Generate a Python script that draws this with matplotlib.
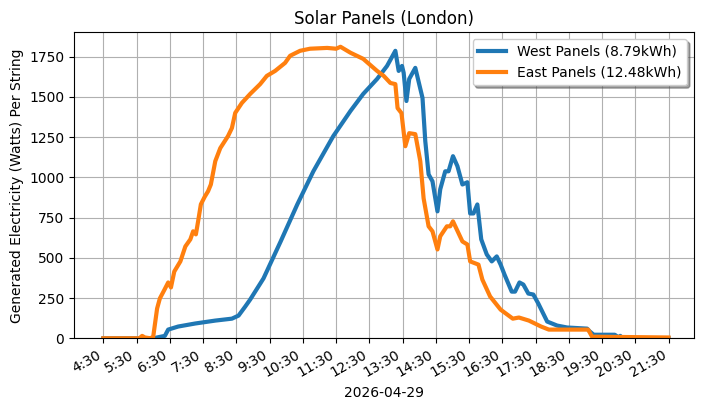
#!/usr/bin/env python3

import datetime
import matplotlib
matplotlib.use("Agg")
import matplotlib.pyplot as plt

# Day of the readings.

day = "2026-04-29"

# West panels (time, watts).

west_times = ["04:30", "06:00", "06:21", "06:27", "06:45", "07:16", "07:52",
              "08:22", "08:34", "08:46", "08:55", "09:19", "09:50", "10:20",
              "10:49", "11:25", "11:56", "12:19", "12:44", "13:02", "13:17",
              "13:23", "13:29", "13:32", "13:37", "13:42", "13:53", "14:06",
              "14:11", "14:17", "14:24", "14:33", "14:38", "14:47", "14:53",
              "15:01", "15:09", "15:18", "15:27", "15:32", "15:38", "15:45",
              "15:52", "16:02", "16:11", "16:20", "16:27", "16:34", "16:47",
              "16:53", "17:01", "17:08", "17:17", "17:26", "17:35", "17:51",
              "18:09", "18:27", "19:03", "19:08", "19:15", "19:53", "20:00",
              "20:03", "20:06", "21:30"]
west_watts = [0, 0, 15, 54, 73, 92, 110,
              122, 141, 197, 241, 372, 602, 832,
              1038, 1257, 1413, 1519, 1612, 1693, 1787,
              1662, 1693, 1650, 1475, 1612, 1681, 1494,
              1226, 1019, 976, 789, 926, 1038, 1038,
              1132, 1070, 956, 970, 776, 776, 832,
              615, 521, 478, 509, 458, 396, 290,
              290, 347, 334, 278, 272, 216, 104,
              79, 67, 60, 42, 22, 22, 5,
              15, 0, 0]

# East panels.

east_times = ["04:30", "05:35", "05:40", "05:45", "05:55", "06:00", "06:04",
              "06:07", "06:12", "06:20", "06:27", "06:32", "06:38", "06:49",
              "06:58", "07:07", "07:12", "07:17", "07:21", "07:26", "07:33",
              "07:39", "07:44", "07:52", "08:01", "08:15", "08:22", "08:28",
              "08:40", "08:55", "09:13", "09:25", "09:40", "09:58", "10:07",
              "10:25", "10:43", "11:14", "11:30", "11:38", "11:56", "12:19",
              "12:44", "12:56", "13:08", "13:17", "13:21", "13:28", "13:35",
              "13:42", "13:53", "14:02", "14:08", "14:17", "14:24", "14:33",
              "14:38", "14:50", "14:56", "15:01", "15:18", "15:27", "15:32",
              "15:47", "15:54", "16:08", "16:27", "16:49", "17:00", "17:18",
              "17:40", "17:54", "19:05", "19:12", "21:30"]
east_watts = [0, 0, 15, 5, 0, 10, 110,
              185, 248, 300, 347, 316, 415, 478,
              571, 615, 665, 646, 727, 833, 880,
              914, 956, 1101, 1182, 1257, 1307, 1401,
              1463, 1519, 1580, 1631, 1662, 1712, 1756,
              1787, 1800, 1805, 1800, 1812, 1775, 1737,
              1662, 1631, 1587, 1580, 1431, 1400, 1194,
              1275, 1269, 1101, 870, 696, 665, 552,
              634, 696, 696, 727, 602, 583, 478,
              458, 365, 260, 178, 122, 129, 110,
              73, 54, 54, 10, 5]

labels = ["West Panels (8.79kWh)", "East Panels (12.48kWh)"]


def to_dt(times):
    return [datetime.datetime.strptime(day + " " + t, "%Y-%m-%d %H:%M")
            for t in times]


# Start the plotting.

fig, ax = plt.subplots(figsize=(7.04, 4.09), dpi=100)
fig.subplots_adjust(left=0.1051, right=0.9858, top=0.921, bottom=0.1729)

ax.plot(to_dt(west_times), west_watts, "-", linewidth=3, label=labels[0])
ax.plot(to_dt(east_times), east_watts, "-", linewidth=3, label=labels[1])

# Ticks every hour on the half hour.

ticks = [datetime.datetime(2026, 4, 29, h, 30) for h in range(4, 22)]
ax.set_xticks(ticks)
ax.set_xticklabels(["{0}:30".format(t.hour) for t in ticks],
                   rotation=30, ha="right")
ax.set_xlim(datetime.datetime(2026, 4, 29, 3, 37),
            datetime.datetime(2026, 4, 29, 22, 16))
ax.set_ylim(0, 1902)

ax.grid(True)
ax.legend(loc="upper right", shadow=True)

ax.set_title("Solar Panels (London)")
ax.set_xlabel(day)
ax.set_ylabel("Generated Electricity (Watts) Per String")

fig.savefig("out.png")
